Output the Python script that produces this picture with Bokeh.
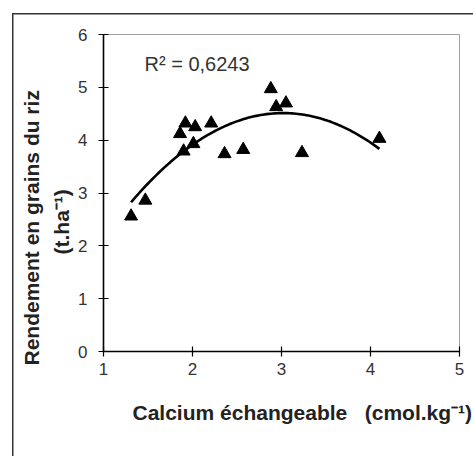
import numpy as np
from bokeh.plotting import figure
from bokeh.models import Label, Title, FixedTicker, Range1d
from bokeh.embed import file_html
from bokeh.resources import INLINE

# Data
calcium = [1.31, 1.47, 1.86, 1.92, 1.90, 2.03, 2.01, 2.21, 2.36, 2.57, 2.88, 2.94, 3.05, 3.23, 4.10]
rendement = [2.56, 2.86, 4.12, 4.32, 3.79, 4.25, 3.93, 4.32, 3.74, 3.82, 4.97, 4.63, 4.70, 3.76, 4.03]
x_ticks = [1, 2, 3, 4, 5]
y_ticks = [0, 1, 2, 3, 4, 5, 6]
r2_text = "R² = 0,6243"
x_label = "Calcium échangeable\u00a0\u00a0\u00a0(cmol.kg⁻¹)"
y_label_1 = "Rendement en grains du riz"
y_label_2 = "(t.ha⁻¹)"

# Polynomial (order 2) trend line fitted on the data
coef = np.polyfit(calcium, rendement, 2)
xs = np.linspace(min(calcium), max(calcium), 120)
ys = np.polyval(coef, xs)

W, H = 473, 456
p = figure(width=W, height=H, output_backend="svg", toolbar_location=None,
           x_range=Range1d(1, 5), y_range=Range1d(0, 6),
           min_border_left=103, min_border_right=14, min_border_top=34, min_border_bottom=105)
p.xgrid.visible = False
p.ygrid.visible = False
p.outline_line_color = "#a0a0a0"
p.outline_line_width = 1
p.background_fill_color = "white"
p.border_fill_color = None
p.styles = {
    "background-color": "white",
    "background-image": "linear-gradient(#333,#333), linear-gradient(#333,#333)",
    "background-position": "12px 13px, 12px 13px",
    "background-size": "1.5px 600px, 600px 1.5px",
    "background-repeat": "no-repeat, no-repeat",
}

for ax, ticks in ((p.xaxis[0], x_ticks), (p.yaxis[0], y_ticks)):
    ax.ticker = FixedTicker(ticks=ticks)
    ax.minor_tick_line_color = None
    ax.axis_line_color = "black"
    ax.axis_line_width = 1.6
    ax.major_tick_line_color = "black"
    ax.major_tick_line_width = 1.2
    ax.major_tick_in = 5
    ax.major_tick_out = 5
    ax.major_label_text_font = "Liberation Sans"
    ax.major_label_text_font_size = "17px"
    ax.major_label_text_color = "#333333"
p.xaxis[0].major_label_standoff = 6
p.yaxis[0].major_label_standoff = 11

p.line(xs, ys, line_color="black", line_width=2.6)
p.scatter(calcium, rendement, marker="triangle", size=13, fill_color="black", line_color="black")

font = "Liberation Sans"
p.add_layout(Label(x=144, y=63, x_units="canvas", y_units="canvas", text=r2_text,
                   text_font=font, text_font_size="20px", text_color="#333333",
                   text_align="left", text_baseline="middle"))

t_x = Title(text=x_label, align="left", offset=29, standoff=43,
            text_font=font, text_font_size="21px", text_font_style="bold", text_color="#222222")
p.add_layout(t_x, "below")
t_y2 = Title(text=y_label_2, align="left", offset=97, standoff=6,
             text_font=font, text_font_size="21px", text_font_style="bold", text_color="#222222")
p.add_layout(t_y2, "left")
t_y1 = Title(text=y_label_1, align="left", offset=-14, standoff=4,
             text_font=font, text_font_size="21px", text_font_style="bold", text_color="#222222")
p.add_layout(t_y1, "left")

open("out.html", "w").write(file_html(p, INLINE))
